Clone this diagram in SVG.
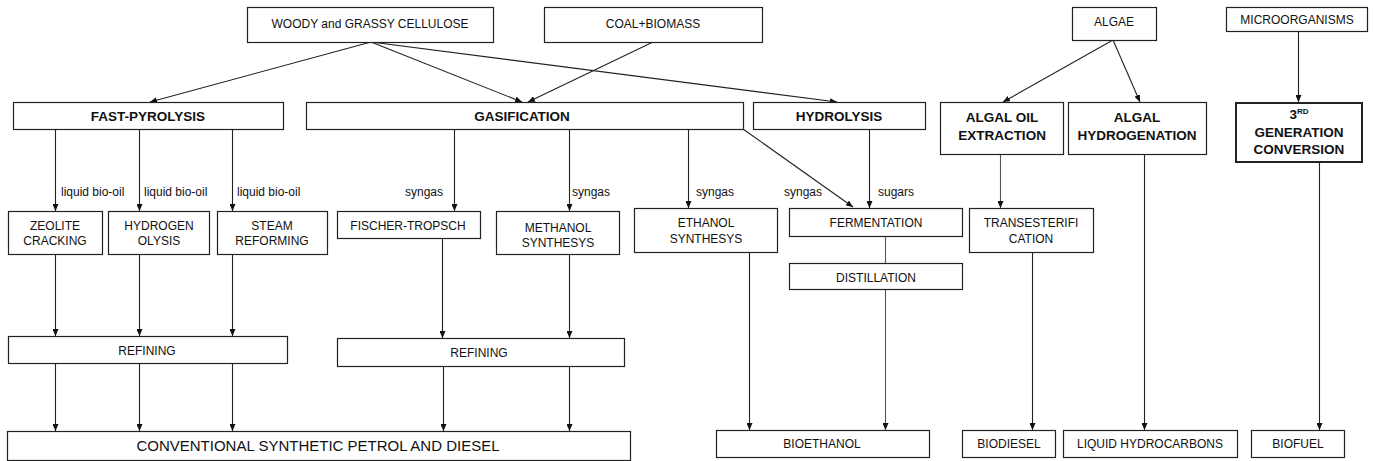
<svg xmlns="http://www.w3.org/2000/svg" width="1373" height="461" viewBox="0 0 1373 461">
<style>
.b{fill:#fff;stroke:#222;stroke-width:1.2}
.bt{fill:#fff;stroke:#222;stroke-width:2}
.t{font-family:"Liberation Sans",Arial,sans-serif;font-size:12px;fill:#111;text-anchor:middle}
.tb{font-family:"Liberation Sans",Arial,sans-serif;font-size:13.5px;font-weight:bold;fill:#111;text-anchor:middle}
.tl{font-family:"Liberation Sans",Arial,sans-serif;font-size:15px;fill:#111;text-anchor:middle}
.lab{font-family:"Liberation Sans",Arial,sans-serif;font-size:12px;fill:#111}
.c{stroke:#222;stroke-width:1.1;fill:none}
.a{marker-end:url(#ah)}
.g{stroke:#555}
</style>
<defs>
<marker id="ah" markerUnits="userSpaceOnUse" markerWidth="7" markerHeight="6" refX="7" refY="3" orient="auto">
<path d="M0,0 L7,3 L0,6 z" fill="#111"/>
</marker>
</defs>
<rect width="1373" height="461" fill="#fff"/>
<g id="connectors">
<line class="c a" x1="371" y1="42" x2="150" y2="102"/>
<line class="c a" x1="371" y1="42" x2="522" y2="102"/>
<line class="c a" x1="653" y1="42" x2="528" y2="102"/>
<line class="c a" x1="371" y1="42" x2="837" y2="102"/>
<line class="c a" x1="1113" y1="40" x2="1003" y2="102"/>
<line class="c a" x1="1113" y1="40" x2="1140" y2="102"/>
<line class="c a" x1="1298.5" y1="31" x2="1298.5" y2="102"/>
<line class="c a" x1="55.5" y1="129" x2="55.5" y2="211"/>
<line class="c a" x1="139.5" y1="129" x2="139.5" y2="211"/>
<line class="c a" x1="232.5" y1="129" x2="232.5" y2="211"/>
<line class="c a" x1="454.5" y1="129" x2="454.5" y2="211"/>
<line class="c a" x1="569.5" y1="129" x2="569.5" y2="211"/>
<line class="c a" x1="688.5" y1="129" x2="688.5" y2="208"/>
<line class="c a" x1="743" y1="129" x2="853" y2="207"/>
<line class="c a" x1="869.5" y1="129" x2="869.5" y2="208"/>
<line class="c a g" x1="1000.5" y1="155" x2="1000.5" y2="208"/>
<line class="c a" x1="55.5" y1="254" x2="55.5" y2="336"/>
<line class="c a" x1="139.5" y1="254" x2="139.5" y2="336"/>
<line class="c a" x1="232.5" y1="254" x2="232.5" y2="336"/>
<line class="c a" x1="442.5" y1="238" x2="442.5" y2="338"/>
<line class="c a" x1="569.5" y1="254" x2="569.5" y2="338"/>
<line class="c a" x1="55.5" y1="363" x2="55.5" y2="431"/>
<line class="c a" x1="139.5" y1="363" x2="139.5" y2="431"/>
<line class="c a" x1="232.5" y1="363" x2="232.5" y2="431"/>
<line class="c a" x1="443.5" y1="366" x2="443.5" y2="431"/>
<line class="c a" x1="569.5" y1="366" x2="569.5" y2="431"/>
<line class="c g" x1="885.5" y1="236" x2="885.5" y2="263"/>
<line class="c a" x1="749.5" y1="252" x2="749.5" y2="430"/>
<line class="c a g" x1="885.5" y1="289" x2="885.5" y2="430"/>
<line class="c a" x1="1032.5" y1="252" x2="1032.5" y2="430"/>
<line class="c a" x1="1144.5" y1="155" x2="1144.5" y2="430"/>
<line class="c a" x1="1319.5" y1="162" x2="1319.5" y2="430"/>
<text class="lab" x="61" y="196">liquid bio-oil</text>
<text class="lab" x="144" y="196">liquid bio-oil</text>
<text class="lab" x="237" y="196">liquid bio-oil</text>
<text class="lab" x="443" y="196" text-anchor="end">syngas</text>
<text class="lab" x="572" y="196">syngas</text>
<text class="lab" x="696" y="196">syngas</text>
<text class="lab" x="784" y="196">syngas</text>
<text class="lab" x="878" y="196">sugars</text>
</g>
<g id="woody"><rect class="b" x="247.5" y="7.5" width="246" height="35"/><text class="t" x="370" y="28">WOODY and GRASSY CELLULOSE</text></g>
<g id="coal"><rect class="b" x="544.5" y="7.5" width="218" height="35"/><text class="t" x="653" y="28">COAL+BIOMASS</text></g>
<g id="algae"><rect class="b" x="1072.5" y="7.5" width="84" height="33"/><text class="t" x="1114" y="26">ALGAE</text></g>
<g id="micro"><rect class="b" x="1226.5" y="7.5" width="141" height="24"/><text class="t" x="1297" y="24">MICROORGANISMS</text></g>
<g id="fastpyro"><rect class="b" x="13.5" y="102.5" width="270" height="27"/><text class="tb" x="148" y="121">FAST-PYROLYSIS</text></g>
<g id="gasif"><rect class="b" x="306.5" y="102.5" width="437" height="27"/><text class="tb" x="522" y="121">GASIFICATION</text></g>
<g id="hydrolysis"><rect class="b" x="753.5" y="102.5" width="172" height="27"/><text class="tb" x="839" y="121">HYDROLYSIS</text></g>
<g id="algaloil"><rect class="b" x="940.5" y="102.5" width="123" height="52"/><text class="tb" x="1002" y="122">ALGAL OIL</text><text class="tb" x="1002" y="140">EXTRACTION</text></g>
<g id="algalhyd"><rect class="b" x="1068.5" y="102.5" width="138" height="52"/><text class="tb" x="1137" y="122">ALGAL</text><text class="tb" x="1137" y="140">HYDROGENATION</text></g>
<g id="thirdgen"><rect class="bt" x="1236" y="103" width="126" height="59"/><text class="tb" x="1299" y="119">3<tspan font-size="8" dy="-5">RD</tspan></text><text class="tb" x="1299" y="137">GENERATION</text><text class="tb" x="1299" y="154">CONVERSION</text></g>
<g id="zeolite"><rect class="b" x="8.5" y="211.5" width="94" height="43"/><text class="t" x="55" y="230">ZEOLITE</text><text class="t" x="55" y="245">CRACKING</text></g>
<g id="hydrogen"><rect class="b" x="108.5" y="211.5" width="101" height="43"/><text class="t" x="159" y="230">HYDROGEN</text><text class="t" x="159" y="245">OLYSIS</text></g>
<g id="steam"><rect class="b" x="217.5" y="211.5" width="110" height="43"/><text class="t" x="272" y="230">STEAM</text><text class="t" x="272" y="245">REFORMING</text></g>
<g id="fischer"><rect class="b" x="337.5" y="211.5" width="143" height="27"/><text class="t" x="408" y="230">FISCHER-TROPSCH</text></g>
<g id="methanol"><rect class="b" x="496.5" y="211.5" width="123" height="43"/><text class="t" x="558" y="232">METHANOL</text><text class="t" x="558" y="247">SYNTHESYS</text></g>
<g id="ethanol"><rect class="b" x="634.5" y="208.5" width="143" height="44"/><text class="t" x="706" y="227">ETHANOL</text><text class="t" x="706" y="243">SYNTHESYS</text></g>
<g id="ferment"><rect class="b" x="789.5" y="208.5" width="173" height="28"/><text class="t" x="876" y="227">FERMENTATION</text></g>
<g id="distill"><rect class="b" x="789.5" y="263.5" width="173" height="26"/><text class="t" x="876" y="282">DISTILLATION</text></g>
<g id="trans"><rect class="b" x="969.5" y="208.5" width="124" height="44"/><text class="t" x="1031" y="227">TRANSESTERIFI</text><text class="t" x="1031" y="243">CATION</text></g>
<g id="refining1"><rect class="b" x="8.5" y="336.5" width="279" height="27"/><text class="t" x="147" y="355">REFINING</text></g>
<g id="refining2"><rect class="b" x="337.5" y="338.5" width="287" height="28"/><text class="t" x="479" y="357">REFINING</text></g>
<g id="conventional"><rect class="b" x="7.5" y="431.5" width="623" height="29"/><text class="tl" x="318" y="451">CONVENTIONAL SYNTHETIC PETROL AND DIESEL</text></g>
<g id="bioethanol"><rect class="b" x="716.5" y="430.5" width="213" height="27"/><text class="t" x="822" y="448">BIOETHANOL</text></g>
<g id="biodiesel"><rect class="b" x="962.5" y="430.5" width="93" height="27"/><text class="t" x="1009" y="448">BIODIESEL</text></g>
<g id="liquidhc"><rect class="b" x="1063.5" y="430.5" width="174" height="27"/><text class="t" x="1150" y="448">LIQUID HYDROCARBONS</text></g>
<g id="biofuel"><rect class="b" x="1251.5" y="430.5" width="93" height="27"/><text class="t" x="1298" y="448">BIOFUEL</text></g>
</svg>
